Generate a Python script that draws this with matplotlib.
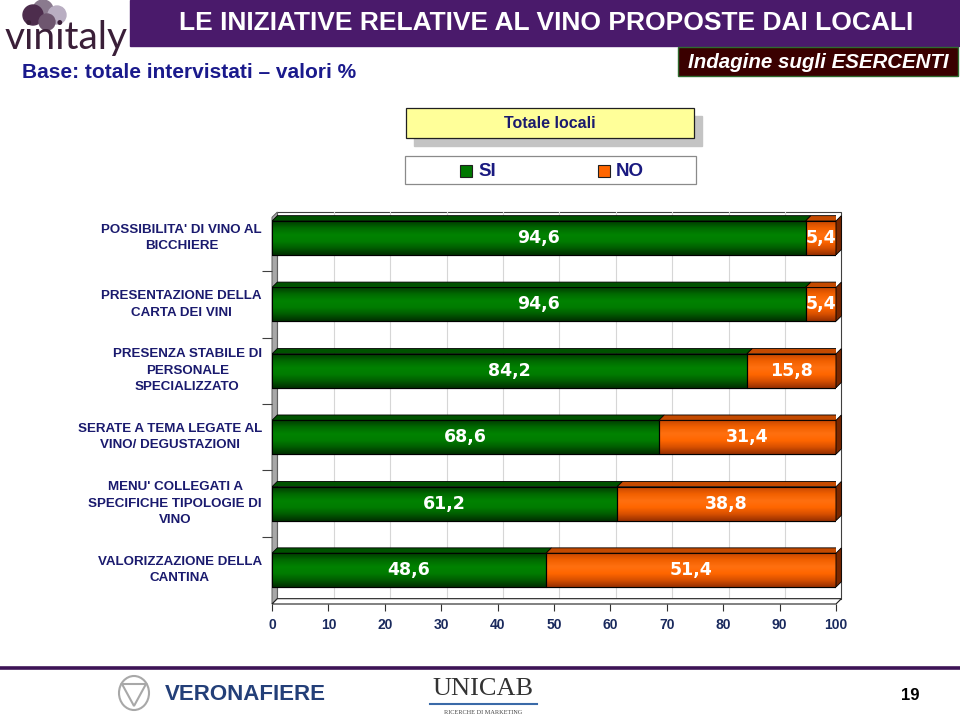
import matplotlib.pyplot as plt
import numpy as np
from matplotlib.patches import Rectangle, Polygon, Circle, Ellipse
from matplotlib.colors import LinearSegmentedColormap

# ---------------- data ----------------
categories = ["POSSIBILITA' DI VINO AL\nBICCHIERE",
              "PRESENTAZIONE DELLA\nCARTA DEI VINI",
              "PRESENZA STABILE DI\nPERSONALE\nSPECIALIZZATO",
              "SERATE A TEMA LEGATE AL\nVINO/ DEGUSTAZIONI",
              "MENU' COLLEGATI A\nSPECIFICHE TIPOLOGIE DI\nVINO",
              "VALORIZZAZIONE DELLA\nCANTINA"]
si_values = [94.6, 94.6, 84.2, 68.6, 61.2, 48.6]
no_values = [5.4, 5.4, 15.8, 31.4, 38.8, 51.4]
series_names = ["SI", "NO"]
xticks = list(range(0, 101, 10))

title = "LE INIZIATIVE RELATIVE AL VINO PROPOSTE DAI LOCALI"
subtitle = "Base: totale intervistati \u2013 valori %"
survey = "Indagine sugli ESERCENTI"
panel = "Totale locali"
page = "19"

NAVY = '#1a1a6e'
PURPLE = '#4a1a6b'
GREEN = '#007800'
ORANGE = '#ff6600'

fig = plt.figure(figsize=(9.6, 7.18), dpi=100)

#--------------------------------------
# background layer in pixel coords
#--------------------------------------
bg = fig.add_axes([0, 0, 1, 1], zorder=0)
bg.set_xlim(0, 960)
bg.set_ylim(718, 0)
bg.axis('off')

# vinitaly logo
bg.add_patch(Circle((43, 10), 10, color='#8a7a8e'))
bg.add_patch(Circle((57, 15), 9, color='#b9aec2'))
bg.add_patch(Circle((33, 15), 10, color='#4d2d4d'))
bg.add_patch(Circle((47, 22), 8, color='#6e566f'))
bg.text(66, 38, "vinitaly", fontsize=28, color='#3a1f38', ha='center', va='center',
        family='Lato')

# header banner
bg.add_patch(Rectangle((130, 0), 830, 46, color=PURPLE))
bg.text(546, 23, title, fontsize=19, fontweight='bold', color='white',
        ha='center', va='center', family='Liberation Sans')
bg.add_patch(Rectangle((678, 47), 280, 29, facecolor='#3a0000', edgecolor='#2e6b2e', lw=1))
bg.text(818, 62, survey, fontsize=14.8, fontweight='bold', style='italic', color='white',
        ha='center', va='center', family='Liberation Sans')
bg.text(22, 72, subtitle, fontsize=15, fontweight='bold', color='#1a1a8c',
        ha='left', va='center', family='Liberation Sans')

# panel title box with shadow
bg.add_patch(Rectangle((414, 116), 288, 30, color='#c4c4c4'))
bg.add_patch(Rectangle((406, 108), 288, 30, facecolor='#ffff99', edgecolor='#202020', lw=0.9))
bg.text(550, 123, panel, fontsize=11.5, fontweight='bold', color=NAVY,
        ha='center', va='center', family='Liberation Sans')

# legend box
bg.add_patch(Rectangle((405, 156), 291, 28, facecolor='white', edgecolor='#8a8a8a', lw=0.9))
for (sx, col, name) in [(460, GREEN, series_names[0]), (598, ORANGE, series_names[1])]:
    bg.add_patch(Rectangle((sx, 165), 12, 12, facecolor=col, edgecolor='#202020', lw=0.8))
    bg.text(sx + 18, 171.5, name, fontsize=13.5, fontweight='bold', color='#1a1a80',
            ha='left', va='center', family='Liberation Sans')

# footer
bg.plot([0, 960], [668, 668], color='#3d1456', lw=2.6)
bg.add_patch(Ellipse((134, 693), 30, 34, facecolor='none', edgecolor='#a8a8a8', lw=1.5))
bg.add_patch(Polygon([(122, 684), (146, 684), (134, 706)], closed=True,
                     facecolor='none', edgecolor='#a8a8a8', lw=1.5))
bg.text(165, 695, "VERONAFIERE", fontsize=16, fontweight='bold', color='#233f78',
        ha='left', va='center', family='Liberation Sans')
bg.text(483, 689, "UNICAB", fontsize=19, color='#333333', ha='center', va='center',
        family='Liberation Serif')
bg.plot([430, 537], [704, 704], color='#3a6aa8', lw=1.5)
bg.text(483, 712, "RICERCHE DI MARKETING", fontsize=4.5, color='#444444',
        ha='center', va='center', family='Liberation Serif')
bg.text(910, 695, page, fontsize=12, fontweight='bold', color='black',
        ha='center', va='center', family='Liberation Sans')

#--------------------------------------
# chart
#--------------------------------------
ax = fig.add_axes([272/960, 1 - 604/718, 564/960, (604 - 212)/718], zorder=2)
ax.patch.set_alpha(0)
y_top, y_bot = -0.39, 5.51
dx, dy = 0.95, 0.08
bar_h = 0.51

for s in ax.spines.values():
    s.set_visible(False)

# back wall, left wall, floor
ax.add_patch(Rectangle((dx, y_top), 100, (y_bot - dy) - y_top, facecolor='white',
                       edgecolor='#404040', lw=0.8, zorder=0.5, clip_on=False))
for g in xticks[1:-1]:
    ax.plot([g + dx, g + dx], [y_top, y_bot - dy], color='#d6d6d6', lw=0.8, zorder=0.6)
ax.add_patch(Polygon([(0, y_bot), (dx, y_bot - dy), (dx, y_top), (0, y_top + dy)],
                     closed=True, facecolor='#a8a8a8', edgecolor='#606060', lw=0.7,
                     zorder=0.7, clip_on=False))
ax.add_patch(Polygon([(0, y_bot), (100, y_bot), (100 + dx, y_bot - dy), (dx, y_bot - dy)],
                     closed=True, facecolor='white', edgecolor='#202020', lw=0.8,
                     zorder=0.7, clip_on=False))

ypos = np.arange(len(categories))
si = np.array(si_values)
no = np.array(no_values)

bars_si = ax.barh(ypos, si, height=bar_h, color=GREEN, edgecolor='black', lw=0.8, zorder=3)
bars_no = ax.barh(ypos, no, left=si, height=bar_h, color=ORANGE, edgecolor='black', lw=0.8, zorder=3)

green_cmap = LinearSegmentedColormap.from_list('g', ['#003c00', '#006a00', '#008200', '#007c00', '#005c00', '#003000'])
orange_cmap = LinearSegmentedColormap.from_list('o', ['#c84800', '#f26000', '#ff7010', '#ff6600', '#d85000', '#983000'])
grad = np.linspace(0, 1, 64).reshape(-1, 1)

def shade(bars, cmap, top_col, side_col, side=False):
    for p in bars.patches:
        x0, y0 = p.get_x(), p.get_y()
        w, h = p.get_width(), p.get_height()
        ax.imshow(grad, cmap=cmap, aspect='auto', origin='upper',
                  extent=(x0, x0 + w, y0 + h, y0), zorder=3.1, interpolation='bicubic')
        ax.add_patch(Rectangle((x0, y0), w, h, facecolor='none', edgecolor='black',
                               lw=0.8, zorder=3.2))
        ax.add_patch(Polygon([(x0, y0), (x0 + w, y0), (x0 + w + dx, y0 - dy), (x0 + dx, y0 - dy)],
                             closed=True, facecolor=top_col, edgecolor='black', lw=0.6, zorder=3.3))
        if side:
            ax.add_patch(Polygon([(x0 + w, y0), (x0 + w + dx, y0 - dy), (x0 + w + dx, y0 + h - dy),
                                  (x0 + w, y0 + h)], closed=True, facecolor=side_col,
                                 edgecolor='black', lw=0.6, zorder=3.3, clip_on=False))

shade(bars_si, green_cmap, '#005200', '#003800')
shade(bars_no, orange_cmap, '#c44a00', '#7a2800', side=True)

def fmt(v):
    return ("%.1f" % v).replace('.', ',')

for i in range(len(categories)):
    ax.text(si[i] / 2, ypos[i], fmt(si[i]), color='white', fontsize=12.5, fontweight='bold',
            ha='center', va='center', zorder=5, family='DejaVu Sans')
    ax.text(si[i] + no[i] / 2, ypos[i], fmt(no[i]), color='white', fontsize=12.5, fontweight='bold',
            ha='center', va='center', zorder=5, family='DejaVu Sans')
    ax.text(-1.8, ypos[i], categories[i], color=NAVY, fontsize=9.6, fontweight='bold',
            ha='right', va='center', multialignment='center', linespacing=1.5,
            family='Liberation Sans', clip_on=False)

ax.set_xlim(0, 100)
ax.set_ylim(y_bot, y_top)
ax.set_xticks(xticks)
ax.set_xticklabels([str(t) for t in xticks], fontsize=10, fontweight='bold', color='#1a2a5e',
                   family='Liberation Sans')
ax.tick_params(axis='x', length=5, width=0.8, color='#303030', pad=5)
ax.set_yticks(np.arange(len(categories) - 1) + 0.5)
ax.set_yticklabels([])
ax.tick_params(axis='y', length=7, width=0.8, color='#404040')

fig.savefig('out.png', dpi=100)
